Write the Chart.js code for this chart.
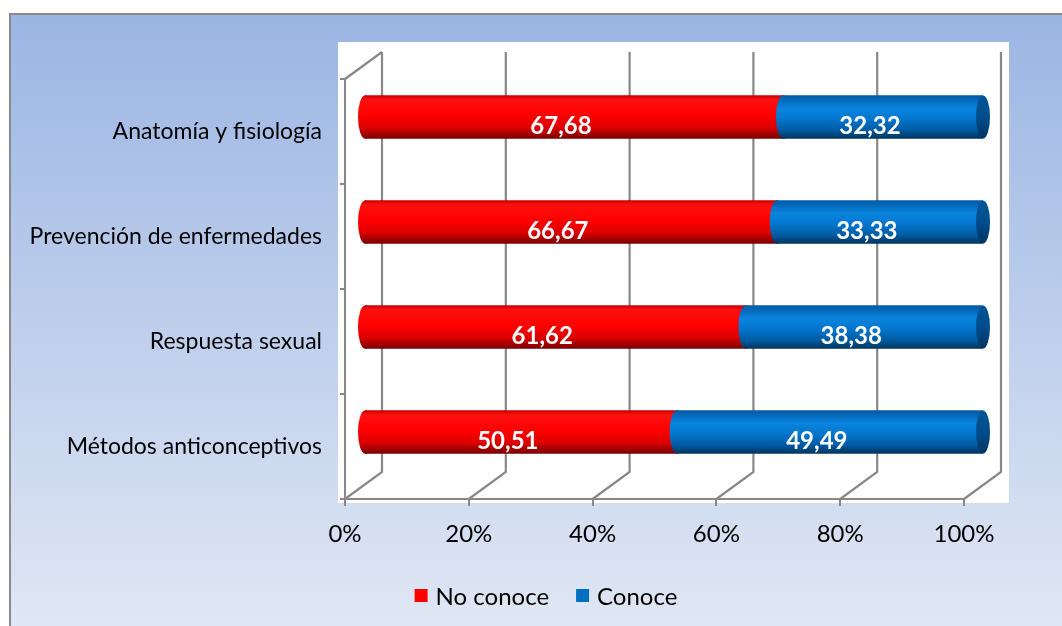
<!DOCTYPE html>
<html><head><meta charset="utf-8">
<script src="https://cdn.jsdelivr.net/npm/chart.js@4.4.1/dist/chart.umd.min.js"></script>
<style>html,body{margin:0;padding:0;background:#fff;overflow:hidden}#wrap{width:1062px;height:626px;position:relative}</style>
</head><body><div id="wrap"><canvas id="c" width="1062" height="626"></canvas></div>
<script>
const categories = ["Anatomía y fisiología", "Prevención de enfermedades", "Respuesta sexual", "Métodos anticonceptivos"];
const seriesNames = ["No conoce", "Conoce"];
const noConoce = [67.68, 66.67, 61.62, 50.51];
const conoce = [32.32, 33.33, 38.38, 49.49];
const xTickValues = [0, 20, 40, 60, 80, 100];

const FONT = "Lato, 'Open Sans', sans-serif";
const DEPTH = {x: 37, y: -27};
const BAR_OFF = {x: 19, y: -14.5};
const BAR_T = 43;
const RX = 7;

function fmt(v){ return v.toFixed(2).replace('.', ','); }

function redGrad(ctx, yc){
  if (!isFinite(yc)) return '#ff0000';
  const g = ctx.createLinearGradient(0, yc - BAR_T/2, 0, yc + BAR_T/2);
  g.addColorStop(0, '#c80000'); g.addColorStop(0.1, '#ff1010'); g.addColorStop(0.45, '#ff0000');
  g.addColorStop(0.75, '#dc0000'); g.addColorStop(1, '#7a0000');
  return g;
}
function blueGrad(ctx, yc){
  if (!isFinite(yc)) return '#0070c0';
  const g = ctx.createLinearGradient(0, yc - BAR_T/2, 0, yc + BAR_T/2);
  g.addColorStop(0, '#005aa8'); g.addColorStop(0.3, '#0a84dc'); g.addColorStop(0.5, '#0479d2');
  g.addColorStop(0.8, '#005ca4'); g.addColorStop(1, '#00355f');
  return g;
}
function rowY(c){
  const ys = c.chart.scales.y;
  if (!ys) return NaN;
  return ys.getPixelForValue(c.dataIndex);
}
function leftCap(ctx, x, y, fill){
  const h = BAR_T/2;
  ctx.fillStyle = fill;
  ctx.beginPath();
  ctx.moveTo(x + 2, y - h);
  ctx.lineTo(x, y - h);
  ctx.ellipse(x, y, RX, h, 0, -Math.PI/2, Math.PI/2, true);
  ctx.lineTo(x + 2, y + h);
  ctx.closePath();
  ctx.fill();
}

const bgPlugin = {
  id: 'bg3d',
  beforeDraw(chart){
    const ctx = chart.ctx, xs = chart.scales.x, ys = chart.scales.y;
    const W = chart.width, H = chart.height;
    ctx.save();
    ctx.fillStyle = '#ffffff'; ctx.fillRect(0,0,W,H);
    const g = ctx.createLinearGradient(0, 14, 0, H);
    g.addColorStop(0, '#9bb5e3'); g.addColorStop(1, '#e0e7f4');
    ctx.fillStyle = g; ctx.fillRect(10, 14, W-10, H-14);
    ctx.strokeStyle = '#8a8a8a'; ctx.lineWidth = 2;
    ctx.beginPath(); ctx.moveTo(10, H); ctx.lineTo(10, 14); ctx.lineTo(W, 14); ctx.stroke();
    const top = ys.top, bot = ys.bottom, left = xs.left;
    ctx.fillStyle = '#ffffff';
    ctx.fillRect(left - 7, top + DEPTH.y - 10, xs.right - left + DEPTH.x + 15, bot - top - DEPTH.y + 14);
    ctx.strokeStyle = '#888888'; ctx.lineWidth = 2.2; ctx.lineCap = 'butt';
    ctx.beginPath();
    xTickValues.forEach(v => {
      const x = xs.getPixelForValue(v);
      ctx.moveTo(x + DEPTH.x, top + DEPTH.y); ctx.lineTo(x + DEPTH.x, bot + DEPTH.y);
      ctx.lineTo(x, bot);
    });
    ctx.moveTo(left, top); ctx.lineTo(left + DEPTH.x, top + DEPTH.y);
    ctx.stroke();
    ctx.restore();
  },
  beforeDatasetsDraw(chart){
    chart.ctx.save();
    chart.ctx.translate(BAR_OFF.x, BAR_OFF.y);
  },
  afterDatasetsDraw(chart){
    const ctx = chart.ctx;
    const m0 = chart.getDatasetMeta(0), m1 = chart.getDatasetMeta(1);
    m0.data.forEach((el, i) => {
      const r = el.getProps(['x','y','base'], true);
      const b = m1.data[i].getProps(['x','y','base'], true);
      leftCap(ctx, r.base, r.y, redGrad(ctx, r.y));
      leftCap(ctx, b.base, b.y, blueGrad(ctx, b.y));
      const cg = ctx.createLinearGradient(0, b.y - BAR_T/2, 0, b.y + BAR_T/2);
      cg.addColorStop(0, '#005596'); cg.addColorStop(0.5, '#004d8c'); cg.addColorStop(1, '#003562');
      ctx.fillStyle = cg;
      ctx.beginPath(); ctx.ellipse(b.x, b.y, RX, BAR_T/2, 0, 0, Math.PI*2); ctx.fill();
    });
    ctx.restore();
    ctx.save();
    ctx.fillStyle = '#ffffff';
    ctx.font = "bold 24px " + FONT;
    ctx.textAlign = 'center'; ctx.textBaseline = 'middle';
    [m0, m1].forEach((m, di) => {
      const vals = di === 0 ? noConoce : conoce;
      m.data.forEach((el, i) => {
        const p = el.getProps(['x','y','base'], true);
        ctx.fillText(fmt(vals[i]), (p.x + p.base)/2 + 6, p.y - 5);
      });
    });
    ctx.restore();
  },
  afterDraw(chart){
    const ctx = chart.ctx;
    ctx.save();
    ctx.font = "24px " + FONT;
    ctx.textBaseline = 'middle'; ctx.textAlign = 'left';
    const cols = ['#ff0000', '#0070c0'];
    const y = 596;
    const w0 = ctx.measureText(seriesNames[0]).width, w1 = ctx.measureText(seriesNames[1]).width;
    const total = 13 + 8 + w0 + 27 + 13 + 8 + w1;
    let x = chart.width/2 + 15 - total/2;
    [0,1].forEach(i => {
      ctx.fillStyle = cols[i]; ctx.fillRect(x, y - 7, 13, 13);
      ctx.fillStyle = '#000000'; ctx.fillText(seriesNames[i], x + 21, y + 1);
      x += 21 + (i === 0 ? w0 : w1) + 27;
    });
    ctx.restore();
  }
};

new Chart(document.getElementById('c'), {
  type: 'bar',
  data: {
    labels: categories,
    datasets: [
      {label: seriesNames[0], data: noConoce, backgroundColor: c => redGrad(c.chart.ctx, rowY(c)), borderWidth: 0, barThickness: BAR_T},
      {label: seriesNames[1], data: conoce, backgroundColor: c => blueGrad(c.chart.ctx, rowY(c)), borderWidth: 0, barThickness: BAR_T}
    ]
  },
  options: {
    indexAxis: 'y',
    responsive: false,
    animation: false,
    devicePixelRatio: 1,
    layout: {padding: {top: 79, right: 98, bottom: 67, left: 0}},
    plugins: {legend: {display: false}, tooltip: {enabled: false}},
    scales: {
      x: {
        stacked: true, min: 0, max: 100,
        afterBuildTicks: s => { s.ticks = xTickValues.map(v => ({value: v})); },
        afterFit: s => { s.height = 60; },
        ticks: {callback: v => v + '%', color: '#000', font: {family: FONT, size: 24}, padding: 14, maxRotation: 0},
        grid: {display: true, drawOnChartArea: false, drawTicks: true, tickLength: 7, color: '#888888', lineWidth: 2},
        border: {display: true, color: '#888888', width: 2}
      },
      y: {
        stacked: true,
        afterFit: s => { s.width = 345; },
        ticks: {color: '#000', font: {family: FONT, size: 23}, padding: 18},
        grid: {display: true, drawOnChartArea: false, drawTicks: true, tickLength: 5, offset: true, color: '#888888', lineWidth: 2},
        border: {display: true, color: '#888888', width: 2}
      }
    }
  },
  plugins: [bgPlugin]
});
</script></body></html>
